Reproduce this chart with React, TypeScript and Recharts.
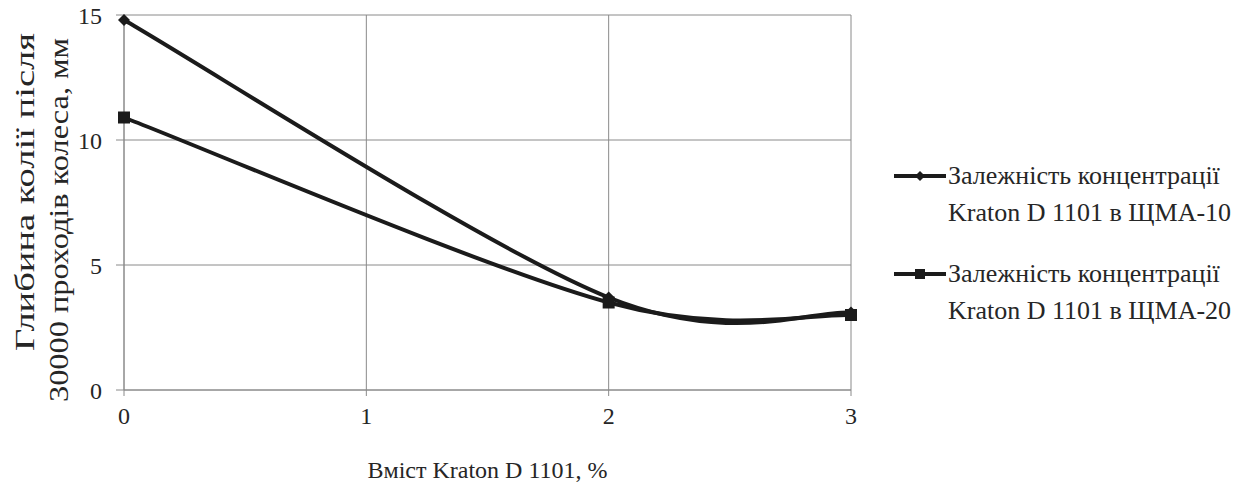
import React from "react";
import { LineChart, Line, XAxis, YAxis, CartesianGrid, Label } from "recharts";

// Вміст Kraton D 1101, %
const contents = [0, 2, 3];
// глибина колії, мм
const rutSMA10 = [14.8, 3.7, 3.1];
const rutSMA20 = [10.9, 3.5, 3.0];
const xTicks = [0, 1, 2, 3];
const yTicks = [0, 5, 10, 15];

const seriesNames = [
  ["Залежність концентрації", "Kraton D 1101 в ЩМА-10"],
  ["Залежність концентрації", "Kraton D 1101 в ЩМА-20"],
];

const data = contents.map((c, i) => ({
  x: c,
  sma10: rutSMA10[i],
  sma20: rutSMA20[i],
}));

const INK = "#1b1b1b";
const GRID = "#8a8a8a";
const TEXT = "#262626";
const FONT =
  "'Times New Roman', Times, 'Liberation Serif', Tinos, 'Noto Serif', 'DejaVu Serif', serif";

// smoothed line like the office chart (cardinal, tension 0)
function smoothCurve(context: any) {
  let pts: number[][] = [];
  return {
    areaStart() {},
    areaEnd() {},
    lineStart() {
      pts = [];
    },
    point(x: number, y: number) {
      pts.push([+x, +y]);
    },
    lineEnd() {
      if (!pts.length) return;
      context.moveTo(pts[0][0], pts[0][1]);
      for (let i = 0; i < pts.length - 1; i++) {
        const p0 = pts[i - 1] || pts[i];
        const p1 = pts[i];
        const p2 = pts[i + 1];
        const p3 = pts[i + 2] || pts[i + 1];
        context.bezierCurveTo(
          p1[0] + (p2[0] - p0[0]) / 6,
          p1[1] + (p2[1] - p0[1]) / 6,
          p2[0] - (p3[0] - p1[0]) / 6,
          p2[1] - (p3[1] - p1[1]) / 6,
          p2[0],
          p2[1]
        );
      }
    },
  };
}

const Diamond = (props: any) => {
  const { cx, cy } = props;
  if (cx == null || cy == null) return null;
  const r = 6;
  return (
    <path
      d={`M${cx},${cy - r}L${cx + r},${cy}L${cx},${cy + r}L${cx - r},${cy}Z`}
      fill={INK}
    />
  );
};

const Square = (props: any) => {
  const { cx, cy } = props;
  if (cx == null || cy == null) return null;
  return <rect x={cx - 6} y={cy - 6} width={12} height={12} fill={INK} />;
};

const YTitle = () => (
  <g style={{ fontFamily: FONT }} fontSize={28} fill={TEXT}>
    <text
      x={34}
      y={192}
      transform="rotate(-90 34 192)"
      textAnchor="middle"
      textLength={318}
      lengthAdjust="spacingAndGlyphs"
    >
      Глибина колії після
    </text>
    <text
      x={68}
      y={220}
      transform="rotate(-90 68 220)"
      textAnchor="middle"
      textLength={364}
      lengthAdjust="spacingAndGlyphs"
    >
      30000 проходів колеса, мм
    </text>
  </g>
);

export default function App() {
  return (
    <div style={{ position: "relative", width: 1259, height: 486, background: "#fff", fontFamily: FONT }}>
      <style>{`body{margin:0}`}</style>
      <LineChart
        width={1259}
        height={486}
        data={data}
        margin={{ top: 15, right: 408, left: 0, bottom: 0 }}
        style={{ fontFamily: FONT }}
      >
        <CartesianGrid stroke={GRID} strokeWidth={1} />
        <XAxis
          dataKey="x"
          type="number"
          domain={[0, 3]}
          ticks={xTicks}
          height={96}
          stroke={GRID}
          tickSize={6}
          tickMargin={11}
          tick={{ fill: TEXT, fontSize: 24, style: { fontFamily: FONT } }}
        >
          <Label
            value="Вміст Kraton D 1101, %"
            position="insideBottom"
            offset={8}
            style={{ fill: TEXT, fontSize: 24, fontFamily: FONT }}
          />
        </XAxis>
        <YAxis
          type="number"
          domain={[0, 15]}
          ticks={yTicks}
          width={124}
          stroke={GRID}
          tickSize={8}
          tickMargin={14}
          tick={{ fill: TEXT, fontSize: 24, style: { fontFamily: FONT } }}
        >
          <Label content={<YTitle />} />
        </YAxis>
        <Line
          dataKey="sma10"
          type={smoothCurve as any}
          stroke={INK}
          strokeWidth={4}
          dot={<Diamond />}
          activeDot={false}
          isAnimationActive={false}
        />
        <Line
          dataKey="sma20"
          type={smoothCurve as any}
          stroke={INK}
          strokeWidth={4}
          dot={<Square />}
          activeDot={false}
          isAnimationActive={false}
        />
      </LineChart>
      <div
        style={{
          position: "absolute",
          left: 892,
          top: 157,
          fontFamily: FONT,
          fontSize: 26,
          color: TEXT,
          lineHeight: "37px",
        }}
      >
        {seriesNames.map((lines, i) => (
          <div key={i} style={{ display: "flex", marginBottom: i === 0 ? 24 : 0 }}>
            <svg width={56} height={37} style={{ flex: "none" }}>
              <line x1={2} y1={19} x2={54} y2={19} stroke={INK} strokeWidth={4} />
              {i === 0 ? (
                <path d="M28,14L33,19L28,24L23,19Z" fill={INK} />
              ) : (
                <rect x={23} y={14} width={10} height={10} fill={INK} />
              )}
            </svg>
            <div>
              {lines.map((t, j) => (
                <div key={j} style={{ whiteSpace: "nowrap" }}>
                  {t}
                </div>
              ))}
            </div>
          </div>
        ))}
      </div>
    </div>
  );
}
